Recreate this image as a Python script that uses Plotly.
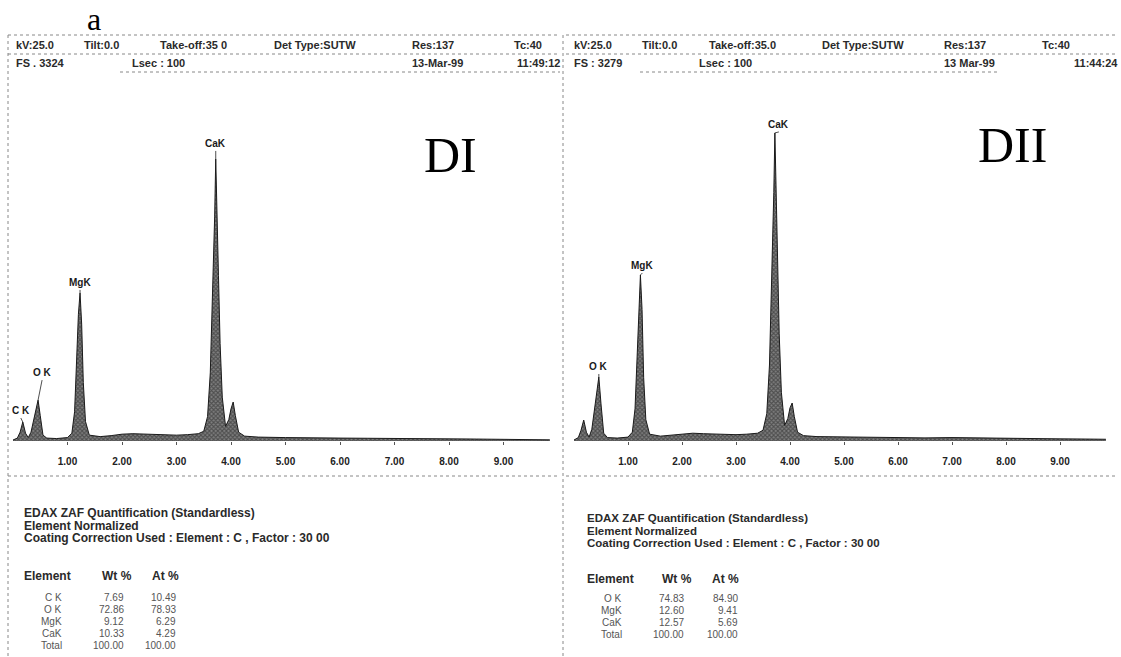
import plotly.graph_objects as go

W, H = 1121, 657

# ---------------- data ----------------
ENERGY_KEV = [0.00, 0.08, 0.13, 0.18, 0.23, 0.28, 0.33, 0.38, 0.42, 0.46, 0.50, 0.55, 0.62, 0.80,
              1.00, 1.08, 1.13, 1.17, 1.20, 1.23, 1.26, 1.29, 1.33, 1.40, 1.60, 1.80, 2.00, 2.20,
              2.40, 2.60, 2.80, 3.00, 3.20, 3.40, 3.50, 3.57, 3.62, 3.66, 3.70, 3.72, 3.74, 3.77,
              3.80, 3.84, 3.90, 3.96, 4.00, 4.04, 4.08, 4.14, 4.25, 4.50, 5.00, 5.50, 6.00, 6.50,
              7.00, 7.50, 8.00, 8.50, 9.00, 9.50, 9.85]
COUNTS_DI = [10, 30, 90, 195, 80, 35, 90, 230, 330, 420, 260, 60, 30, 25,
             35, 80, 300, 850, 1300, 1520, 1200, 600, 200, 60, 45, 55, 70, 75,
             70, 65, 60, 60, 65, 75, 100, 250, 700, 1400, 2300, 2895, 2500, 1700,
             1000, 450, 150, 220, 330, 400, 260, 90, 50, 40, 35, 30, 30, 28,
             28, 25, 22, 20, 18, 15, 12]
COUNTS_DII = [10, 35, 110, 215, 90, 40, 120, 350, 520, 657, 380, 80, 35, 30,
              40, 90, 330, 950, 1450, 1704, 1350, 650, 220, 70, 50, 60, 75, 80,
              75, 70, 65, 65, 70, 80, 110, 280, 780, 1550, 2550, 3162, 2700, 1850,
              1100, 500, 160, 230, 340, 390, 250, 90, 55, 45, 40, 35, 35, 32,
              35, 30, 28, 25, 22, 20, 18]

TICK_VALS = [1, 2, 3, 4, 5, 6, 7, 8, 9]
TICK_TEXT = ["1.00", "2.00", "3.00", "4.00", "5.00", "6.00", "7.00", "8.00", "9.00"]

PEAKS_DI = [("C K", 0.18, 195), ("O K", 0.46, 420), ("MgK", 1.23, 1520), ("CaK", 3.72, 2895)]
PEAKS_DII = [("O K", 0.46, 657), ("MgK", 1.23, 1704), ("CaK", 3.72, 3162)]

HEADER_DI_1 = ["kV:25.0", "Tilt:0.0", "Take-off:35 0", "Det Type:SUTW", "Res:137", "Tc:40"]
HEADER_DI_2 = ["FS . 3324", "Lsec : 100", "13-Mar-99", "11:49:12"]
HEADER_DII_1 = ["kV:25.0", "Tilt:0.0", "Take-off:35.0", "Det Type:SUTW", "Res:137", "Tc:40"]
HEADER_DII_2 = ["FS : 3279", "Lsec : 100", "13 Mar-99", "11:44:24"]

QUANT_TITLE = ["EDAX ZAF Quantification (Standardless)", "Element Normalized",
               "Coating Correction Used : Element : C , Factor : 30 00"]
ELEM_DI = ["C K", "O K", "MgK", "CaK", "Total"]
WT_DI = ["7.69", "72.86", "9.12", "10.33", "100.00"]
AT_DI = ["10.49", "78.93", "6.29", "4.29", "100.00"]
ELEM_DII = ["O K", "MgK", "CaK", "Total"]
WT_DII = ["74.83", "12.60", "12.57", "100.00"]
AT_DII = ["84.90", "9.41", "5.69", "100.00"]


def px(x, y):
    return x / W, 1 - y / H


fig = go.Figure()

# axes geometry (pixels)
Y_BASE, Y_TOP = 441, 100
YMAX = 3500
LX0, LX1, L_ZERO, L_SCALE = 10, 550, 13, 54.5
RX0, RX1, R_ZERO, R_SCALE = 570, 1118, 574, 54.0

fill_kw = dict(mode="lines", fill="tozeroy", line=dict(color="#1a1a1a", width=1),
               fillcolor="#5a5a5a",
               fillpattern=dict(shape="x", fgcolor="#1e1e1e", bgcolor="#808080", size=3, solidity=0.6),
               hoverinfo="skip", showlegend=False)

fig.add_trace(go.Scatter(x=ENERGY_KEV, y=COUNTS_DI, xaxis="x", yaxis="y", **fill_kw))
fig.add_trace(go.Scatter(x=ENERGY_KEV, y=COUNTS_DII, xaxis="x2", yaxis="y2", **fill_kw))

yd = [1 - Y_BASE / H, 1 - Y_TOP / H]
axis_common = dict(showgrid=False, zeroline=False, ticks="outside", ticklen=3, tickcolor="#555",
                   tickvals=TICK_VALS, ticktext=TICK_TEXT, showline=False,
                   tickfont=dict(family="Liberation Sans", size=10, color="#222", weight="bold"),
                   ticklabelstandoff=8)
fig.update_layout(
    width=W, height=H, margin=dict(l=0, r=0, t=0, b=0),
    paper_bgcolor="white", plot_bgcolor="rgba(0,0,0,0)",
    xaxis=dict(domain=[LX0 / W, LX1 / W],
               range=[(LX0 - L_ZERO) / L_SCALE, (LX1 - L_ZERO) / L_SCALE], anchor="y", **axis_common),
    xaxis2=dict(domain=[RX0 / W, RX1 / W],
                range=[(RX0 - R_ZERO) / R_SCALE, (RX1 - R_ZERO) / R_SCALE], anchor="y2", **axis_common),
    yaxis=dict(domain=yd, range=[0, YMAX], visible=False, anchor="x"),
    yaxis2=dict(domain=yd, range=[0, YMAX], visible=False, anchor="x2"),
)

ann = []


def text(x, y, s, size=10, color="#1a1a1a", family="Liberation Sans", xanchor="left", weight="normal"):
    ax, ay = px(x, y)
    ann.append(dict(x=ax, y=ay, xref="paper", yref="paper", text=s, showarrow=False,
                    xanchor=xanchor, yanchor="middle",
                    font=dict(family=family, size=size, color=color, weight=weight)))


# panel letter and sample labels
text(94, 19, "a", size=32, color="black", family="Liberation Serif", xanchor="center")
text(450, 155, "DI", size=50, color="black", family="Liberation Serif", xanchor="center")
text(1012, 145, "DII", size=50, color="black", family="Liberation Serif", xanchor="center")

# header rows
hdr = dict(size=11, weight="bold", color="#2a2a2a")
for s, x in zip(HEADER_DI_1, [14, 82, 158, 272, 410, 512]):
    text(x, 45, s, **hdr)
for s, x in zip(HEADER_DI_2, [14, 130, 410, 515]):
    text(x, 63, s, **hdr)
for s, x in zip(HEADER_DII_1, [572, 640, 707, 820, 942, 1040]):
    text(x, 45, s, **hdr)
for s, x in zip(HEADER_DII_2, [572, 697, 942, 1072]):
    text(x, 63, s, **hdr)

# peak labels with leader lines
offs_DI = {"C K": (-2, -4), "O K": (4, -20), "MgK": (0, -3), "CaK": (0, -8)}
offs_DII = {"O K": (0, -3), "MgK": (2, -2), "CaK": (4, -1)}
lab_font = dict(family="Liberation Sans", size=10, color="#1a1a1a", weight="bold")
for (lab, e, c) in PEAKS_DI:
    dx, dy = offs_DI[lab]
    ann.append(dict(x=e, y=c, xref="x", yref="y", text=lab, showarrow=True, arrowhead=0,
                    arrowwidth=0.8, arrowcolor="#222", ax=dx, ay=dy, yanchor="bottom",
                    font=lab_font))
for (lab, e, c) in PEAKS_DII:
    dx, dy = offs_DII[lab]
    ann.append(dict(x=e, y=c, xref="x2", yref="y2", text=lab, showarrow=True, arrowhead=0,
                    arrowwidth=0.8, arrowcolor="#222", ax=dx, ay=dy, yanchor="bottom",
                    font=lab_font))

# quantification blocks
for i, s in enumerate(QUANT_TITLE):
    text(22, 513 + i * 12.5, s, size=12, weight="bold", color="#2a2a2a")
    text(585, 518 + i * 12.5, s, size=11.5, weight="bold", color="#2a2a2a")

text(22, 576, "Element", size=12, weight="bold", color="#2a2a2a")
text(100, 576, "Wt %", size=12, weight="bold", color="#2a2a2a")
text(150, 576, "At %", size=12, weight="bold", color="#2a2a2a")
for i, (el, w, a) in enumerate(zip(ELEM_DI, WT_DI, AT_DI)):
    y = 597 + i * 12
    text(64, y, el, size=10, color="#555", xanchor="right")
    text(126, y, w, size=10, color="#555", xanchor="right")
    text(178, y, a, size=10, color="#555", xanchor="right")

text(585, 579, "Element", size=12, weight="bold", color="#2a2a2a")
text(660, 579, "Wt %", size=12, weight="bold", color="#2a2a2a")
text(710, 579, "At %", size=12, weight="bold", color="#2a2a2a")
for i, (el, w, a) in enumerate(zip(ELEM_DII, WT_DII, AT_DII)):
    y = 598 + i * 12
    text(624, y, el, size=10, color="#555", xanchor="right")
    text(686, y, w, size=10, color="#555", xanchor="right")
    text(740, y, a, size=10, color="#555", xanchor="right")

fig.update_layout(annotations=ann)

# faint scan frame lines
shapes = []


def hline(x0, x1, y, dash="dot", color="#888"):
    a0, b = px(x0, y)
    a1, _ = px(x1, y)
    shapes.append(dict(type="line", xref="paper", yref="paper", x0=a0, x1=a1, y0=b, y1=b,
                       line=dict(color=color, width=1, dash=dash)))


def vline(x, y0, y1, dash="dot", color="#888"):
    a, b0 = px(x, y0)
    _, b1 = px(x, y1)
    shapes.append(dict(type="line", xref="paper", yref="paper", x0=a, x1=a, y0=b0, y1=b1,
                       line=dict(color=color, width=1, dash=dash)))


hline(8, 560, 35)
hline(8, 560, 54)
hline(120, 560, 72)
hline(566, 1115, 35)
hline(566, 1115, 54)
hline(640, 1000, 72)
hline(8, 560, 476)
hline(566, 1115, 476)
vline(8, 35, 657)
vline(563, 35, 657)
fig.update_layout(shapes=shapes)

fig.write_html("out.html", config={"displayModeBar": False},
               post_script="document.body.style.margin='0';")
